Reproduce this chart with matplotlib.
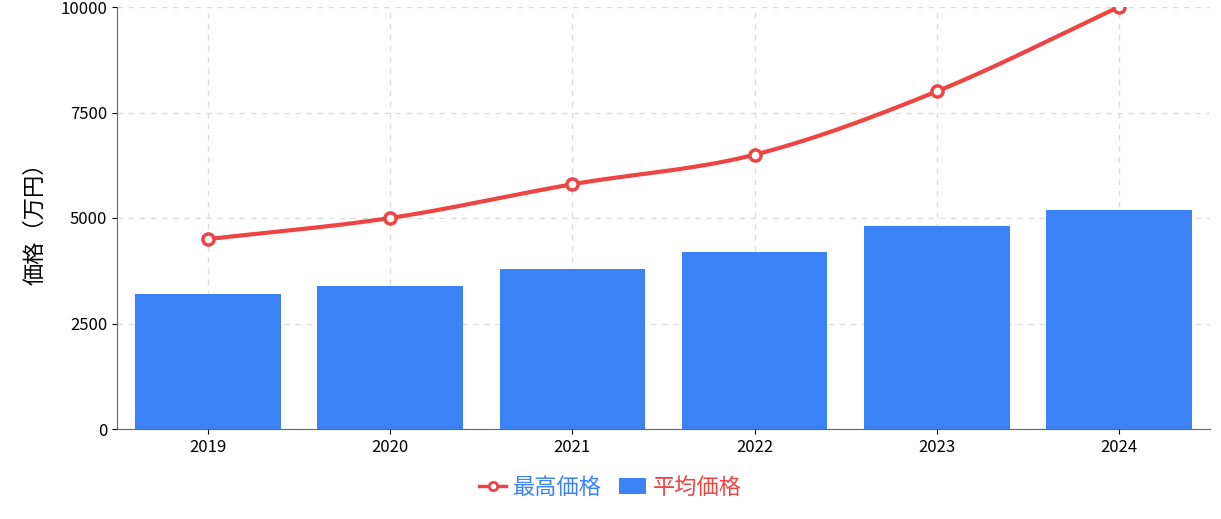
import matplotlib
matplotlib.use("Agg")
import matplotlib.pyplot as plt
import numpy as np

plt.rcParams['font.family'] = ['Noto Sans CJK JP', 'DejaVu Sans']

years = ["2019", "2020", "2021", "2022", "2023", "2024"]
avg_price = [3200, 3400, 3800, 4200, 4800, 5200]
max_price = [4500, 5000, 5800, 6500, 8000, 10000]

blue = "#3b82f6"
red = "#ef4444"

fig = plt.figure(figsize=(12.21, 5.19), dpi=100)
ax = fig.add_axes([117/1221, 1-429/519, (1210-117)/1221, (429-7)/519])

x = np.arange(len(years))
ax.bar(x, avg_price, width=0.8, color=blue, zorder=2, label="平均価格")

# smooth rendering (Catmull-Rom) through data points
def catmull(xs, ys, n=30):
    xs = np.asarray(xs, float); ys = np.asarray(ys, float)
    px = np.concatenate([[2*xs[0]-xs[1]], xs, [2*xs[-1]-xs[-2]]])
    py = np.concatenate([[2*ys[0]-ys[1]], ys, [2*ys[-1]-ys[-2]]])
    ox, oy = [], []
    for i in range(1, len(px)-2):
        t = np.linspace(0, 1, n)
        for arr, out in ((px, ox), (py, oy)):
            p0, p1, p2, p3 = arr[i-1:i+3]
            out.extend(0.5*((2*p1) + (-p0+p2)*t + (2*p0-5*p1+4*p2-p3)*t**2 + (-p0+3*p1-3*p2+p3)*t**3))
    return ox, oy

sx, sy = catmull(x, max_price)
ax.plot(sx, sy, color=red, lw=3, zorder=3)
ax.plot(x, max_price, 'o', color=red, mfc='white', mec=red, mew=2.5, ms=8, zorder=4)
ax.plot([], [], '-o', color=red, mfc='white', mec=red, mew=2, ms=6, lw=2.5, label="最高価格")

ax.set_xlim(-0.5, 5.5)
ax.set_ylim(0, 10000)
ax.set_xticks(x)
ax.set_xticklabels(years, fontsize=12)
ax.set_yticks([0, 2500, 5000, 7500, 10000])
ax.tick_params(axis='y', labelsize=12)
ax.grid(True, ls=(0, (4, 4)), color="#dddddd", lw=1, zorder=0)
ax.set_axisbelow(True)
for s in ['top', 'right']:
    ax.spines[s].set_visible(False)
for s in ['left', 'bottom']:
    ax.spines[s].set_color("#666666")
ax.set_ylabel("価格（万円）", fontsize=16, labelpad=10)

leg = fig.legend(loc='lower center', bbox_to_anchor=(0.5, 0.0), ncol=2, frameon=False,
                 fontsize=16, handlelength=1.2, columnspacing=0.8, handletextpad=0.3)
for t, c in zip(leg.get_texts(), [blue, red]):
    t.set_color(c)

fig.savefig("out.png", dpi=100)
